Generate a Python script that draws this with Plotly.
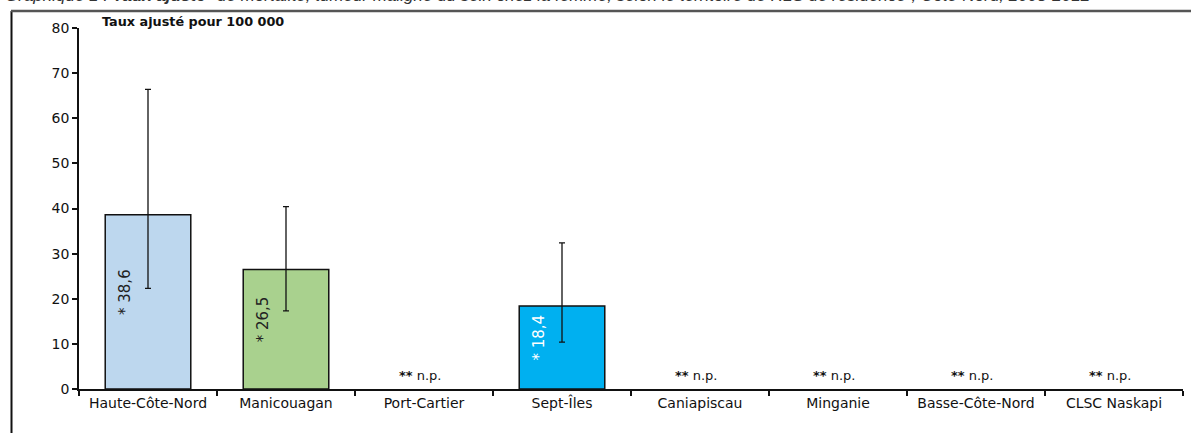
import plotly.graph_objects as go

categories = ["Haute-Côte-Nord", "Manicouagan", "Port-Cartier", "Sept-Îles",
              "Caniapiscau", "Minganie", "Basse-Côte-Nord", "CLSC Naskapi"]
values = [38.6, 26.5, None, 18.4, None, None, None, None]
ci_low = [22.3, 17.3, None, 10.4, None, None, None, None]
ci_high = [66.4, 40.4, None, 32.4, None, None, None, None]
bar_colors = ["#BDD7EE", "#A9D18E", "#FFFFFF", "#00B0F0",
              "#FFFFFF", "#FFFFFF", "#FFFFFF", "#FFFFFF"]
label_colors = ["#222222", "#222222", "#222222", "#FFFFFF",
                "#222222", "#222222", "#222222", "#222222"]
y_ticks = [0, 10, 20, 30, 40, 50, 60, 70, 80]
unit_label = "Taux ajusté pour 100 000"
np_label = "<b>**</b> n.p."
title_text = ("Graphique 1 : <b>Taux ajusté</b>* de mortalité, tumeur maligne du sein chez la femme, "
              "selon le territoire de RLS de résidence¹, Côte-Nord, 2008-2012")

FONT = "DejaVu Sans"
W, H = 1191, 433
L, R, T, B = 79, 8, 28, 44

err_plus = [(h - v) if v is not None else None for v, h in zip(values, ci_high)]
err_minus = [(v - l) if v is not None else None for v, l in zip(values, ci_low)]

fig = go.Figure()
fig.add_trace(go.Bar(
    x=categories, y=values, width=0.62,
    marker=dict(color=bar_colors, line=dict(color="#111111", width=1.5)),
    error_y=dict(type="data", symmetric=False, array=err_plus, arrayminus=err_minus,
                 color="#111111", thickness=1.3, width=3),
    hoverinfo="skip", showlegend=False,
))

annotations = []
for c, v, col in zip(categories, values, label_colors):
    if v is None:
        annotations.append(dict(x=c, y=3.0, xref="x", yref="y", text=np_label,
                                showarrow=False, xshift=-4,
                                font=dict(family=FONT, size=13, color="#111111")))
    else:
        annotations.append(dict(x=c, y=v / 2 + 2.2, xref="x", yref="y",
                                text="* " + f"{v:.1f}".replace(".", ","),
                                textangle=-90, showarrow=False, xshift=-23,
                                font=dict(family=FONT, size=15, color=col)))

plot_w = W - L - R
plot_h = H - T - B
def px(xp):
    return (xp - L) / plot_w
def py(yp):
    return (H - B - yp) / plot_h

annotations.append(dict(x=px(100), y=py(22), xref="paper", yref="paper", text=unit_label,
                        showarrow=False, xanchor="left", yanchor="middle",
                        font=dict(family=FONT, size=12.8, color="#111111", weight="bold")))
annotations.append(dict(x=px(1093), y=py(7.5), xref="paper", yref="paper", text=title_text,
                        showarrow=False, xanchor="right", yanchor="bottom",
                        font=dict(family="Liberation Sans", size=17, color="#333333", style="italic")))

shapes = [
    dict(type="line", xref="paper", yref="paper", x0=px(11.5), x1=px(11.5), y0=py(11), y1=py(440),
         line=dict(color="#111111", width=2)),
    dict(type="line", xref="paper", yref="paper", x0=px(11), x1=px(1195), y0=py(11), y1=py(11),
         line=dict(color="#555555", width=2.5)),
]

fig.update_layout(
    width=W, height=H,
    margin=dict(l=L, r=R, t=T, b=B, autoexpand=False),
    paper_bgcolor="white", plot_bgcolor="white",
    font=dict(family=FONT, color="#111111"),
    annotations=annotations, shapes=shapes,
)
fig.update_xaxes(
    type="category", showline=True, linecolor="#111111", linewidth=1.5,
    ticks="outside", tickson="boundaries", ticklen=5, tickcolor="#111111", tickwidth=1.5,
    tickfont=dict(family=FONT, size=14, color="#111111"), showgrid=False,
    range=[-0.5, len(categories) - 0.5],
)
fig.update_yaxes(
    range=[0, 80], tickvals=y_ticks, showline=True, linecolor="#111111", linewidth=1.5,
    ticks="outside", ticklen=5, tickcolor="#111111", tickwidth=1.5,
    tickfont=dict(family=FONT, size=14, color="#111111"), showgrid=False, zeroline=False,
)

fig.write_html("out.html", config={"displayModeBar": False},
               post_script="document.body.style.margin='0';document.body.style.overflow='hidden';")
